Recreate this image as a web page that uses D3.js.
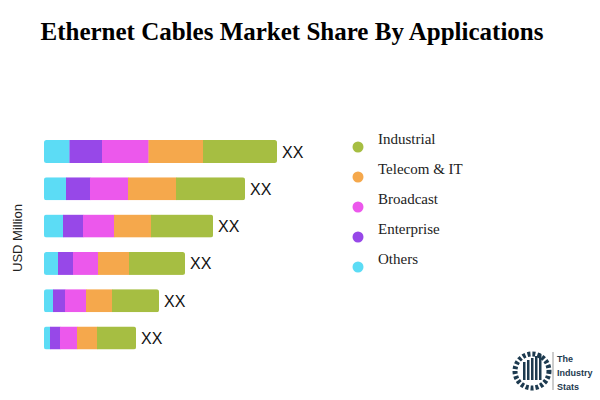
<!DOCTYPE html>
<html><head><meta charset="utf-8">
<script src="https://cdn.jsdelivr.net/npm/d3@7"></script>
<style>body{margin:0;background:#fff}</style></head>
<body><svg id="c" width="600" height="400"></svg>
<script>
const rows = ["r1","r2","r3","r4","r5","r6"];
const seriesNames = ["Others","Enterprise","Broadcast","Telecom & IT","Industrial"];
const others     = [25.5, 22, 19, 14, 9, 6];
const enterprise = [32.5, 24, 20, 15, 12, 10];
const broadcast  = [46.5, 38, 31, 25, 21, 17];
const telecom    = [54.5, 48, 37, 31, 26, 20];
const industrial = [74, 69, 62, 56, 47, 39];
const valueLabels = ["XX","XX","XX","XX","XX","XX"];
const colors = ["#5cdcf5","#9748e8","#ec58ec","#f5a84c","#a6be42"];
const legendOrder = ["Industrial","Telecom & IT","Broadcast","Enterprise","Others"];
const legendColors = ["#a6be42","#f5a84c","#ec58ec","#9748e8","#5cdcf5"];

const svg = d3.select("#c");
svg.append("text").attr("x",292).attr("y",40).attr("text-anchor","middle")
  .style("font-family","Liberation Serif").style("font-weight","bold").style("font-size","25px")
  .text("Ethernet Cables Market Share By Applications");

const x = d3.scaleLinear().domain([0,300]).range([44,344]);
const y = d3.scaleBand().domain(rows).range([140,349.5]).paddingInner(0.383);
const data = rows.map((r,i)=>({r, v:[others[i],enterprise[i],broadcast[i],telecom[i],industrial[i]]}));
const clip = svg.append("defs");
data.forEach((d,i)=>{
  const total = d3.sum(d.v);
  clip.append("clipPath").attr("id","cp"+i).append("rect")
    .attr("x",x(0)).attr("y",y(d.r)).attr("width",x(total)-x(0)).attr("height",y.bandwidth()).attr("rx",2.5);
  const g = svg.append("g").attr("clip-path",`url(#cp${i})`);
  let acc=0;
  d.v.forEach((v,j)=>{
    g.append("rect").attr("x",x(acc)).attr("y",y(d.r)).attr("width",x(acc+v)-x(acc)+0.3)
      .attr("height",y.bandwidth()).attr("fill",colors[j]);
    acc+=v;
  });
  svg.append("text").attr("x",x(total)+5).attr("y",y(d.r)+y.bandwidth()/2+6)
    .style("font-family","Liberation Sans").style("font-size","16px").attr("fill","#111").text(valueLabels[i]);
});
svg.append("text").attr("transform","translate(22,238) rotate(-90)").attr("text-anchor","middle")
  .style("font-family","Liberation Sans").style("font-size","13px").attr("fill","#222").text("USD Million");

legendOrder.forEach((n,i)=>{
  const yy = 147 + i*30;
  svg.append("circle").attr("cx",358).attr("cy",yy).attr("r",5.5).attr("fill",legendColors[i]);
  svg.append("text").attr("x",378).attr("y",yy-3).style("font-family","Liberation Serif")
    .style("font-size","15px").attr("fill","#222").text(n);
});

// logo
const lg = svg.append("g");
lg.append("circle").attr("cx",532).attr("cy",371).attr("r",17).attr("fill","none").attr("stroke","#1d3a4f").attr("stroke-width",5).attr("stroke-dasharray","3 2");
[0,1,2,3,4].forEach(k=>lg.append("rect").attr("x",523+k*4).attr("y",362-k*2).attr("width",2.5).attr("height",18+k*2).attr("fill","#1d3a4f"));
lg.append("line").attr("x1",553).attr("x2",553).attr("y1",352).attr("y2",390).attr("stroke","#999");
["The","Industry","Stats"].forEach((t,i)=>lg.append("text").attr("x",557).attr("y",362+i*14)
  .style("font-family","Liberation Sans").style("font-weight","bold").style("font-size","9px").attr("fill","#1d3a4f").text(t));
</script></body></html>
